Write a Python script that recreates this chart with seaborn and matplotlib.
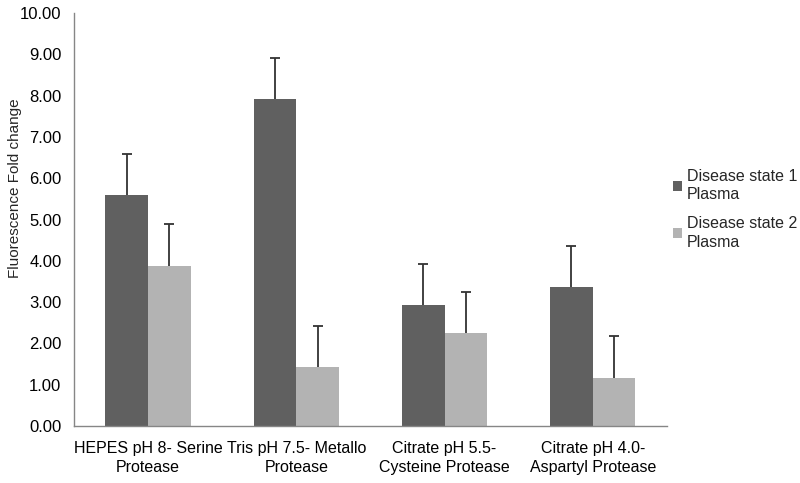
import numpy as np
import pandas as pd
import seaborn as sns
import matplotlib.pyplot as plt
from matplotlib.ticker import FormatStrFormatter, FixedLocator

# values
categories = ['HEPES pH 8- Serine\nProtease', 'Tris pH 7.5- Metallo\nProtease',
              'Citrate pH 5.5-\nCysteine Protease', 'Citrate pH 4.0-\nAspartyl Protease']
series_names = ['Disease state 1\nPlasma', 'Disease state 2\nPlasma']
state1_values = [5.59, 7.92, 2.92, 3.36]
state2_values = [3.88, 1.42, 2.25, 1.17]
state1_errors = [1.0, 1.0, 1.0, 1.0]
state2_errors = [1.0, 1.0, 1.0, 1.0]

colors = ['#606060', '#b3b3b3']
axis_grey = '#868686'

sns.set_theme(style='white')
plt.rcParams['font.family'] = ['Liberation Sans', 'DejaVu Sans']

df = pd.DataFrame({
    'category': categories * 2,
    'series': [series_names[0]] * 4 + [series_names[1]] * 4,
    'value': state1_values + state2_values,
    'err': state1_errors + state2_errors,
})

fig = plt.figure(figsize=(8, 4.83), dpi=100)
ax = fig.add_axes([0.0925, 0.118, 0.741, 0.855])

sns.barplot(data=df, x='category', y='value', hue='series', palette=colors,
            errorbar=None, width=0.575, saturation=1, linewidth=0, ax=ax)

# one-sided (upper) error bars at bar centres
errs = state1_errors + state2_errors
vals = state1_values + state2_values
patches = [p for p in ax.patches if p.get_height() > 0][:8]
xs = [p.get_x() + p.get_width() / 2 for p in patches]
eb = ax.errorbar(xs, vals, yerr=[np.zeros(len(errs)), errs], fmt='none',
                 ecolor='#333333', elinewidth=1.3, capsize=3.5, capthick=1.3)
# hide the cap sitting on the bar top
for cap in eb[1]:
    if np.allclose(cap.get_ydata(), vals):
        cap.set_visible(False)

ax.set_ylim(0, 10)
ax.set_xlim(-0.5, 3.5)
ax.set_yticks(np.arange(0, 10.01, 1))
ax.yaxis.set_major_formatter(FormatStrFormatter('%.2f'))
ax.set_xlabel('')
ax.set_ylabel('Fluorescence Fold change', fontsize=11)
ax.yaxis.set_label_coords(-0.0885, 0.575)

ax.xaxis.set_minor_locator(FixedLocator([-0.5, 0.5, 1.5, 2.5, 3.5]))
ax.tick_params(axis='x', which='major', length=0, labelsize=11.5, pad=11)
ax.tick_params(axis='x', which='minor', length=5, color=axis_grey, width=1, direction='out')
ax.tick_params(axis='y', length=5, color=axis_grey, width=1, direction='out', labelsize=12, pad=4)
ax.tick_params(axis='both', labelcolor='black')
for t in ax.get_xticklabels():
    t.set_linespacing(1.35)

for s in ['top', 'right']:
    ax.spines[s].set_visible(False)
for s in ['left', 'bottom']:
    ax.spines[s].set_color(axis_grey)
    ax.spines[s].set_linewidth(1)

leg = ax.legend(loc='center left', bbox_to_anchor=(1.0, 0.525), frameon=False,
                fontsize=11.5, handlelength=0.55, handleheight=0.55, handletextpad=0.3,
                labelspacing=0.85, borderaxespad=0.0)
for t in leg.get_texts():
    t.set_linespacing(1.3)

fig.savefig('out.png', dpi=100)
